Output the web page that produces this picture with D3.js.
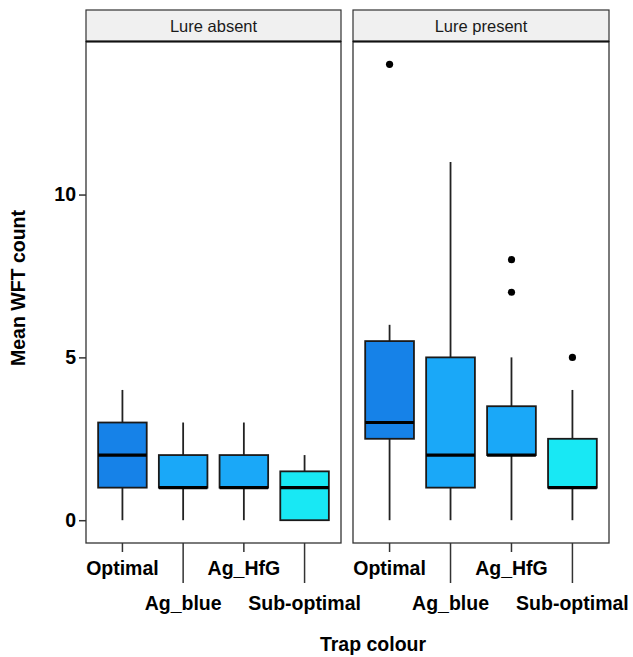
<!DOCTYPE html>
<html>
<head>
<meta charset="utf-8">
<script src="https://cdn.jsdelivr.net/npm/d3@7"></script>
<style>
  body { margin: 0; background: #fff; }
  text { font-family: "Liberation Sans", Arial, sans-serif; }
</style>
</head>
<body>
<svg width="633" height="657"></svg>
<script>
// ---------------- data ----------------
var categories = ["Optimal", "Ag_blue", "Ag_HfG", "Sub-optimal"];
var facets = ["Lure absent", "Lure present"];
var boxColours = ["#1682E8", "#1AA8F8", "#1AA8F8", "#18E8F4"];
var yTicks = [0, 5, 10];

// five-number summaries: [lower whisker, Q1, median, Q3, upper whisker]
var lureAbsent = [
    [0, 1, 2, 3, 4],
    [0, 1, 1, 2, 3],
    [0, 1, 1, 2, 3],
    [0, 0, 1, 1.5, 2]
];
var lurePresent = [
    [0, 2.5, 3, 5.5, 6],
    [0, 1, 2, 5, 11],
    [0, 2, 2, 3.5, 5],
    [0, 1, 1, 2.5, 4]
];
var absentOutliers = [[], [], [], []];
var presentOutliers = [[14], [], [8, 7], [5]];

var panelData = [
    {facet: facets[0], stats: lureAbsent, out: absentOutliers},
    {facet: facets[1], stats: lurePresent, out: presentOutliers}
];

// ---------------- layout ----------------
var svg = d3.select('svg');
var panelX = [[86, 341], [353, 609]];
var stripTop = 10, panelTop = 41.5, panelBottom = 543;

var yScale = d3.scaleLinear()
    .domain([-0.7, 14.7])
    .range([panelBottom, panelTop]);

panelData.forEach((p, pi) => {
    var x0 = panelX[pi][0], x1 = panelX[pi][1];
    var xScale = d3.scalePoint()
        .domain(categories)
        .range([x0, x1])
        .padding(0.6);
    var bw = xScale.step() * 0.8;

    var g = svg.append('g');

    // strip
    g.append('rect')
        .attr('x', x0).attr('y', stripTop)
        .attr('width', x1 - x0).attr('height', panelTop - stripTop)
        .style('fill', '#f0f0f0')
        .style('stroke', '#333')
        .style('stroke-width', 1.2);
    g.append('text')
        .attr('x', (x0 + x1) / 2)
        .attr('y', (stripTop + panelTop) / 2 + 6)
        .attr('text-anchor', 'middle')
        .style('font-size', '16.5px')
        .style('fill', '#1a1a1a')
        .text(p.facet);

    // panel
    g.append('rect')
        .attr('x', x0).attr('y', panelTop)
        .attr('width', x1 - x0).attr('height', panelBottom - panelTop)
        .style('fill', '#fff')
        .style('stroke', '#333')
        .style('stroke-width', 1.3);
    g.append('line')
        .attr('x1', x0).attr('x2', x1)
        .attr('y1', panelTop).attr('y2', panelTop)
        .style('stroke', '#111')
        .style('stroke-width', 2);

    var boxes = g.selectAll('g.box')
        .data(categories)
        .enter().append('g')
        .attr('class', 'box');

    // whiskers
    boxes.append('line')
        .attr('x1', d => xScale(d)).attr('x2', d => xScale(d))
        .attr('y1', (d, i) => yScale(p.stats[i][4]))
        .attr('y2', (d, i) => yScale(p.stats[i][3]))
        .style('stroke', '#222').style('stroke-width', 1.8);
    boxes.append('line')
        .attr('x1', d => xScale(d)).attr('x2', d => xScale(d))
        .attr('y1', (d, i) => yScale(p.stats[i][1]))
        .attr('y2', (d, i) => yScale(p.stats[i][0]))
        .style('stroke', '#222').style('stroke-width', 1.8);

    // boxes
    boxes.append('rect')
        .attr('x', d => xScale(d) - bw / 2)
        .attr('width', bw)
        .attr('y', (d, i) => yScale(p.stats[i][3]))
        .attr('height', (d, i) => yScale(p.stats[i][1]) - yScale(p.stats[i][3]))
        .style('fill', (d, i) => boxColours[i])
        .style('stroke', '#1a1a1a')
        .style('stroke-width', 1.8);

    // medians
    boxes.append('line')
        .attr('x1', d => xScale(d) - bw / 2)
        .attr('x2', d => xScale(d) + bw / 2)
        .attr('y1', (d, i) => yScale(p.stats[i][2]))
        .attr('y2', (d, i) => yScale(p.stats[i][2]))
        .style('stroke', '#000')
        .style('stroke-width', 3.2);

    // outliers
    boxes.each(function(d, i) {
        d3.select(this).selectAll('circle')
            .data(p.out[i])
            .enter().append('circle')
            .attr('cx', xScale(d))
            .attr('cy', v => yScale(v))
            .attr('r', 3.6)
            .style('fill', '#000');
    });

    // x axis: ticks with staggered labels
    var ax = g.selectAll('g.xt')
        .data(categories)
        .enter().append('g')
        .attr('class', 'xt');
    ax.append('line')
        .attr('x1', d => xScale(d)).attr('x2', d => xScale(d))
        .attr('y1', panelBottom)
        .attr('y2', (d, i) => i % 2 == 0 ? panelBottom + 9 : panelBottom + 40)
        .style('stroke', '#333')
        .style('stroke-width', 1.5);
    ax.append('text')
        .attr('x', d => xScale(d))
        .attr('y', (d, i) => i % 2 == 0 ? 575 : 610)
        .attr('text-anchor', 'middle')
        .style('font-size', '19.5px')
        .style('font-weight', 'bold')
        .style('fill', '#000')
        .text(d => d);

    // y axis on first panel only
    if (pi == 0) {
        var yAxis = d3.axisLeft(yScale)
            .tickValues(yTicks)
            .tickSize(7)
            .tickPadding(3);
        var ya = g.append('g')
            .attr('transform', 'translate(' + x0 + ',0)')
            .call(yAxis);
        ya.select('.domain').remove();
        ya.selectAll('line').style('stroke', '#333').style('stroke-width', 1.5);
        ya.selectAll('text')
            .style('font-family', '"Liberation Sans", Arial, sans-serif')
            .style('font-size', '19.5px')
            .style('font-weight', 'bold')
            .style('fill', '#000');
    }
});

// axis titles
svg.append('text')
    .attr('x', 373)
    .attr('y', 651)
    .attr('text-anchor', 'middle')
    .style('font-size', '19.5px')
    .style('font-weight', 'bold')
    .text('Trap colour');

svg.append('text')
    .attr('transform', 'translate(25,288) rotate(-90)')
    .attr('text-anchor', 'middle')
    .style('font-size', '19.5px')
    .style('font-weight', 'bold')
    .text('Mean WFT count');
</script>
</body>
</html>
